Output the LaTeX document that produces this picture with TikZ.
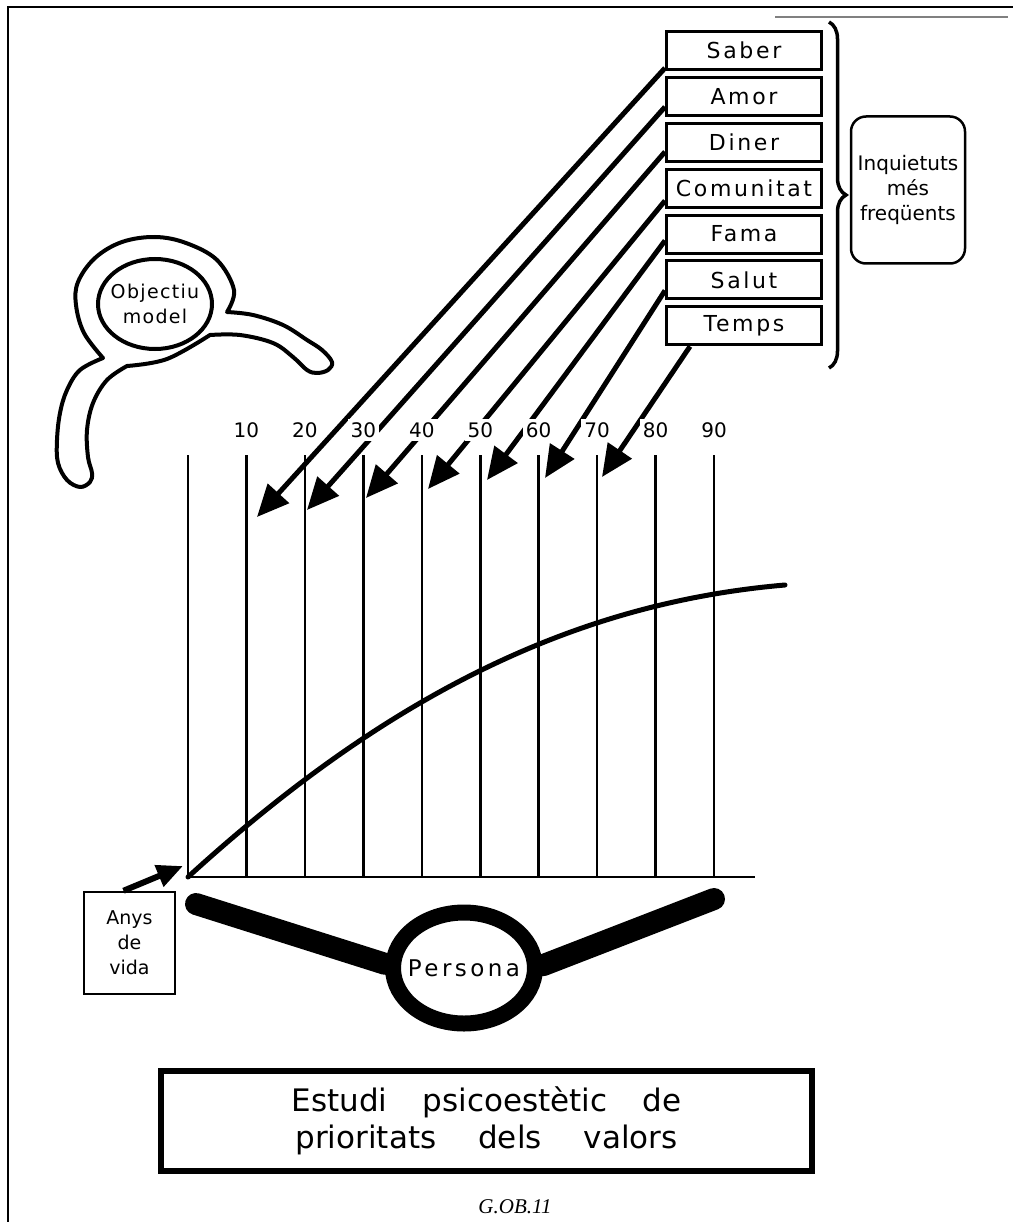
\documentclass[tikz,border=0pt]{standalone}
\usepackage{fontspec}
\setmainfont{DejaVu Sans}
\newfontfamily\spacedfont[LetterSpace=12]{DejaVu Sans}
\newfontfamily\spacedpers[LetterSpace=15]{DejaVu Sans}
\newfontfamily\spacedsm[LetterSpace=7]{DejaVu Sans}
\newfontfamily\capfont{Liberation Serif}
\usetikzlibrary{arrows.meta,shapes.geometric,decorations.pathreplacing,calc}
\begin{document}
\begin{tikzpicture}[x=1pt,y=-1pt,
  valbox/.style={draw, line width=3pt, minimum width=155pt, minimum height=38pt, inner sep=0pt, font=\fontsize{22}{26}\spacedfont},
  bigarrow/.style={line width=5pt, -{Triangle[length=32pt,width=28pt]}},
  agelabel/.style={fill=white, inner sep=3pt, font=\fontsize{20}{22}\selectfont},
  gridline/.style={line width=2.5pt},
  arm/.style={line width=22pt, line cap=round},
  outline/.style={line width=4pt, line join=round}
]
\useasboundingbox (0,0) rectangle (1013,1222);
% frame
\draw[line width=2pt] (8,1222) -- (8,7) -- (1013,7);
\draw[gray, line width=1.5pt] (775,17) -- (1008,17);

% value boxes
\foreach \nm/\txt [count=\i from 0] in {saber/Saber, amor/Amor, diner/Diner, comunitat/Comunitat, fama/Fama, salut/Salut, temps/Temps}{
  \node[valbox] (\nm) at (744, 50.5+45.9*\i) {\txt};
}
% brace
\draw[line width=3.5pt, decorate, decoration={brace, amplitude=17pt}] (829,22) -- (829,368);
\node[draw, line width=2.5pt, rounded corners=15pt, minimum width=114pt, minimum height=147pt, align=center,
  font=\fontsize{20}{25}\selectfont] (inq) at (908,190) {Inquietuts\\més\\freqüents};

% Objectiu model
\node[ellipse, draw, line width=4pt, minimum width=114pt, minimum height=90pt, inner sep=0pt, align=center,
  font=\fontsize{19}{25}\spacedsm] (obj) at (155,304) {\makebox[0pt]{Objectiu}\\\makebox[0pt]{model}};
\draw[outline]
 plot[smooth, tension=0.6] coordinates {(227,312) (234,290) (217,260) (186,243) (155,237) (122,242) (95,258) (78,282) (76,305) (84,333) (103,358)}
 -- plot[smooth, tension=0.6] coordinates {(103,358) (80,370) (67,390) (60,413) (57,440) (58,463) (67,480) (80,487) (90,482) (92,473) (88,457) (87,430) (93,403) (107,380) (127,366)}
 -- plot[smooth, tension=0.6] coordinates {(127,366) (167,359) (210,335)}
 -- plot[smooth, tension=0.6] coordinates {(210,335) (240,335) (273,343) (293,357) (307,370) (317,373) (328,370) (332,362) (322,350) (307,340) (283,325) (253,315) (227,312)}
 -- cycle;

% arrow targets
\coordinate (t1) at (257,517);
\coordinate (t2) at (307,510);
\coordinate (t3) at (366,498);
\coordinate (t4) at (428,489);
\coordinate (t5) at (487,480);
\coordinate (t6) at (545,478);
\coordinate (t7) at (602,477);
\draw[bigarrow] ([yshift=3pt]saber.south west) -- (t1);
\draw[bigarrow] ([yshift=10pt]amor.south west) -- (t2);
\draw[bigarrow] ([yshift=11pt]diner.south west) -- (t3);
\draw[bigarrow] ([yshift=8pt]comunitat.south west) -- (t4);
\draw[bigarrow] ([yshift=14pt]fama.south west) -- (t5);
\draw[bigarrow] ([yshift=10pt]salut.south west) -- (t6);
\draw[bigarrow] ([xshift=25pt]temps.south west) -- (t7);

% grid
\coordinate (o) at (188,877);
\foreach \k in {0,...,9}{
  \draw[gridline] (188+58.45*\k,455) -- (188+58.45*\k,877);
}
\draw[gridline] (o) -- (755,877);
\foreach \k in {1,...,9}{
  \node[agelabel] (n\k) at (188+58.45*\k,430) {\k0};
}

% curve
\coordinate (cend) at (785,585);
\draw[line width=5pt, line cap=round] (o) .. controls (387.5,695) and (575,603) .. (cend);

% Anys de vida
\node[draw, line width=2.5pt, minimum width=91pt, minimum height=102pt, align=center, inner sep=0pt,
  font=\fontsize{19}{25}\selectfont] (anys) at (129.5,943) {Anys\\de\\vida};
\coordinate (a0) at (183,866);
\draw[line width=6pt, -{Triangle[length=26pt,width=22pt]}] ([xshift=-6pt]anys.north) -- (a0);

% Persona
\node[ellipse, draw, line width=16pt, minimum width=142pt, minimum height=111pt, inner sep=0pt,
  font=\fontsize{23}{26}\spacedpers] (persona) at (464,968) {\makebox[0pt]{Persona}};
\coordinate (lend) at (196,904);
\coordinate (rend) at (714,899);
\draw[arm] (lend) -- (persona.177);
\draw[arm] (persona.2) -- (rend);

% title
\node[draw, line width=6pt, minimum width=651pt, minimum height=100pt, align=center, inner sep=0pt,
  font=\fontsize{31}{37}\selectfont] (title) at (486.5,1121)
  {\makebox[390pt][s]{Estudi psicoestètic de}\\\makebox[382pt][s]{prioritats dels valors}};
\node[font=\fontsize{21}{24}\capfont\itshape] (cap) at (515,1207) {G.OB.11};
\end{tikzpicture}
\end{document}
